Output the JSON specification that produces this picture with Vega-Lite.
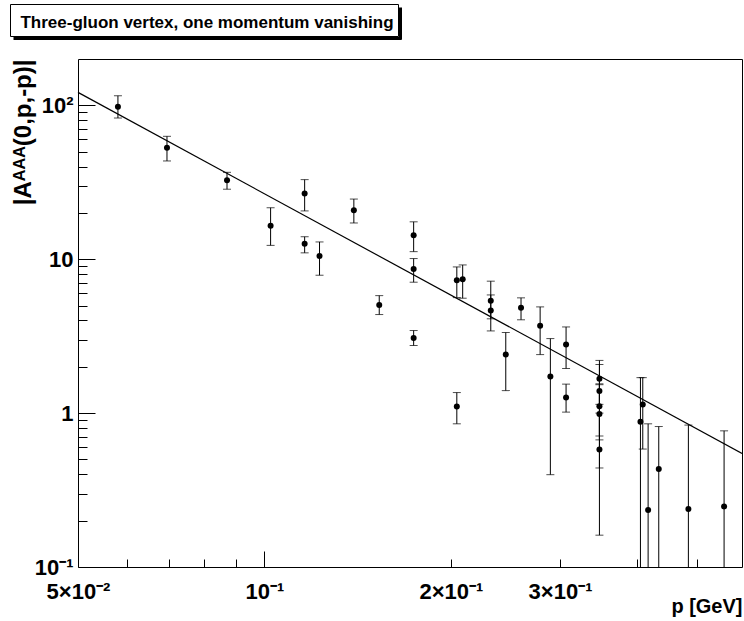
{
  "$schema": "https://vega.github.io/schema/vega-lite/v6.json",
  "background": "white",
  "padding": {"left": 9, "top": 3, "right": 2, "bottom": 2},
  "config": {
    "font": "Liberation Sans",
    "view": {"stroke": null}
  },
  "spacing": 20,
  "vconcat": [
    {
      "width": 388,
      "height": 32,
      "view": {"stroke": "black", "strokeWidth": 1, "fill": "white"},
      "data": {"values": [{"t": "Three-gluon vertex, one momentum vanishing", "c": 0.5}]},
      "mark": {"type": "text", "fontSize": 17, "fontWeight": "bold", "color": "black", "align": "center", "baseline": "middle"},
      "encoding": {
        "text": {"field": "t"},
        "x": {"field": "c", "type": "quantitative", "scale": {"domain": [0, 1], "range": [3, 391]},
          "axis": {"orient": "bottom", "offset": 2, "domain": true, "domainWidth": 3, "domainColor": "black", "labels": false, "ticks": false, "grid": false, "title": null}},
        "y": {"field": "c", "type": "quantitative", "scale": {"domain": [0, 1], "range": [35, 3]},
          "axis": {"orient": "right", "offset": 2, "domain": true, "domainWidth": 3, "domainColor": "black", "labels": false, "ticks": false, "grid": false, "title": null}}
      }
    },
    {
      "width": 732,
      "height": 508,
      "view": {"stroke": null},
      "data": {"values": [
        {"p": 0.0580, "val": 98, "lo": 82.7, "hi": 115.4},
        {"p": 0.0696, "val": 53.0, "lo": 43.5, "hi": 62.9},
        {"p": 0.0870, "val": 32.6, "lo": 28.5, "hi": 36.7},
        {"p": 0.1023, "val": 16.5, "lo": 12.3, "hi": 21.6},
        {"p": 0.1161, "val": 26.7, "lo": 20.6, "hi": 32.9},
        {"p": 0.1161, "val": 12.6, "lo": 11.0, "hi": 14.0},
        {"p": 0.1227, "val": 10.5, "lo": 7.87, "hi": 12.95},
        {"p": 0.1394, "val": 20.8, "lo": 17.2, "hi": 24.6},
        {"p": 0.1532, "val": 5.05, "lo": 4.37, "hi": 5.80},
        {"p": 0.1741, "val": 14.3, "lo": 11.2, "hi": 17.5},
        {"p": 0.1741, "val": 8.65, "lo": 7.09, "hi": 10.1},
        {"p": 0.1741, "val": 3.08, "lo": 2.75, "hi": 3.44},
        {"p": 0.2044, "val": 7.31, "lo": 5.63, "hi": 8.91},
        {"p": 0.2089, "val": 7.41, "lo": 5.58, "hi": 9.18},
        {"p": 0.2044, "val": 1.104, "lo": 0.852, "hi": 1.36},
        {"p": 0.2319, "val": 5.38, "lo": 4.1, "hi": 7.2},
        {"p": 0.2319, "val": 4.64, "lo": 3.42, "hi": 5.86},
        {"p": 0.2452, "val": 2.40, "lo": 1.40, "hi": 3.34},
        {"p": 0.2595, "val": 4.83, "lo": 4.04, "hi": 5.61},
        {"p": 0.2786, "val": 3.69, "lo": 2.40, "hi": 4.90},
        {"p": 0.2894, "val": 1.73, "lo": 0.398, "hi": 3.05},
        {"p": 0.3068, "val": 2.79, "lo": 1.95, "hi": 3.63},
        {"p": 0.3068, "val": 1.262, "lo": 1.015, "hi": 1.543},
        {"p": 0.3473, "val": 1.67, "lo": 1.14, "hi": 2.2},
        {"p": 0.3473, "val": 1.39, "lo": 0.71, "hi": 2.07},
        {"p": 0.3473, "val": 1.11, "lo": 0.67, "hi": 1.55},
        {"p": 0.3473, "val": 0.985, "lo": 0.44, "hi": 1.53},
        {"p": 0.3473, "val": 0.58, "lo": 0.161, "hi": 1.0},
        {"p": 0.4045, "val": 0.878, "lo": 0.01, "hi": 1.70},
        {"p": 0.408, "val": 1.137, "lo": 0.584, "hi": 1.70},
        {"p": 0.4162, "val": 0.2345, "lo": 0.01, "hi": 0.852},
        {"p": 0.433, "val": 0.433, "lo": 0.01, "hi": 0.818},
        {"p": 0.4834, "val": 0.238, "lo": 0.01, "hi": 0.836},
        {"p": 0.552, "val": 0.2475, "lo": 0.01, "hi": 0.767}
      ]},
      "resolve": {"axis": {"x": "independent", "y": "independent"}},
      "layer": [
        {
          "mark": {"type": "rule", "color": "black", "strokeWidth": 1, "clip": true},
          "encoding": {
            "x": {"field": "p", "type": "quantitative",
              "scale": {"type": "log", "domain": [0.05, 0.59], "nice": false, "range": [68, 732]},
              "axis": {"orient": "bottom", "values": [0.06, 0.07, 0.08, 0.09, 0.2, 0.3, 0.4, 0.5], "labels": false, "domain": false, "grid": false, "ticks": true, "tickSize": -8, "tickColor": "black", "title": null}},
            "y": {"field": "lo", "type": "quantitative",
              "scale": {"type": "log", "domain": [0.1, 200], "nice": false},
              "axis": {"orient": "left", "offset": -68, "values": [0.2, 0.3, 0.4, 0.5, 0.6, 0.7, 0.8, 0.9, 2, 3, 4, 5, 6, 7, 8, 9, 20, 30, 40, 50, 60, 70, 80, 90], "labels": false, "domain": false, "grid": false, "ticks": true, "tickSize": -9, "tickColor": "black", "title": null}},
            "y2": {"field": "hi"}
          }
        },
        {
          "mark": {"type": "tick", "orient": "horizontal", "color": "black", "size": 8, "thickness": 1, "clip": true},
          "encoding": {
            "x": {"field": "p", "type": "quantitative",
              "axis": {"orient": "top", "labels": false, "ticks": false, "grid": false, "domain": true, "domainColor": "black", "title": null}},
            "y": {"field": "lo", "type": "quantitative",
              "axis": {"orient": "right", "labels": false, "ticks": false, "grid": false, "domain": true, "domainColor": "black", "title": null}}
          }
        },
        {
          "mark": {"type": "tick", "orient": "horizontal", "color": "black", "size": 8, "thickness": 1, "clip": true},
          "encoding": {
            "x": {"field": "p", "type": "quantitative", "axis": null},
            "y": {"field": "hi", "type": "quantitative", "axis": null}
          }
        },
        {
          "data": {"values": [{"p": 0.05, "fit": 121.4}, {"p": 0.59, "fit": 0.547}]},
          "mark": {"type": "line", "color": "black", "strokeWidth": 1.2, "clip": true},
          "encoding": {
            "x": {"field": "p", "type": "quantitative", "axis": null},
            "y": {"field": "fit", "type": "quantitative", "axis": null}
          }
        },
        {
          "mark": {"type": "circle", "color": "black", "size": 36, "opacity": 1},
          "encoding": {
            "x": {"field": "p", "type": "quantitative",
              "axis": {"orient": "bottom", "values": [0.05, 0.1, 0.2, 0.3], "grid": false, "domain": true, "domainColor": "black",
                "ticks": true, "tickSize": -16, "tickColor": "black",
                "tickOpacity": {"condition": {"test": "datum.value == 0.1", "value": 1}, "value": 0},
                "labelExpr": "datum.value == 0.05 ? '5×10⁻²' : datum.value == 0.1 ? '10⁻¹' : datum.value == 0.2 ? '2×10⁻¹' : '3×10⁻¹'",
                "labelFlush": false, "labelOverlap": false, "labelFontSize": 22, "labelFontWeight": "bold", "labelColor": "black", "labelPadding": 30,
                "title": "p [GeV]", "titleFontSize": 20, "titleFontWeight": "bold", "titleColor": "black",
                "titleX": 732, "titleY": 45, "titleAlign": "right", "titleBaseline": "alphabetic", "titleAngle": 0}},
            "y": {"field": "val", "type": "quantitative",
              "axis": {"orient": "left", "offset": -68, "values": [0.1, 1, 10, 100], "grid": false, "domain": true, "domainColor": "black",
                "ticks": true, "tickSize": -17, "tickColor": "black",
                "labelExpr": "datum.value == 100 ? '10²' : datum.value == 10 ? '10' : datum.value == 1 ? '1' : '10⁻¹'",
                "labelOverlap": false, "labelFontSize": 22, "labelFontWeight": "bold", "labelColor": "black", "labelPadding": 22,
                "title": "|Aᴬᴬᴬ(0,p,-p)|", "titleFontSize": 24, "titleFontWeight": "bold", "titleColor": "black",
                "titleAngle": 270, "titleAlign": "right", "titleBaseline": "middle", "titleX": -55, "titleY": 0}}
          }
        }
      ]
    }
  ]
}
